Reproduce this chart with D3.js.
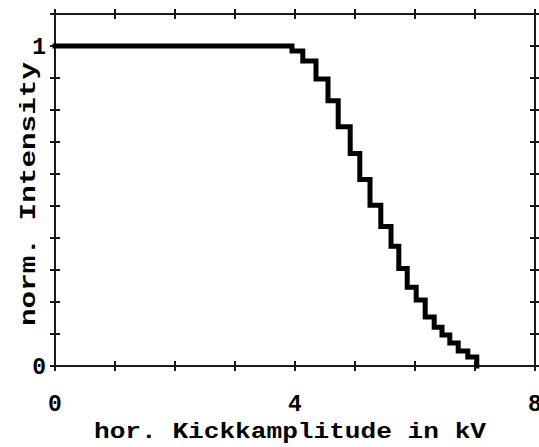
<!DOCTYPE html>
<html>
<head>
<meta charset="utf-8">
<script src="https://cdn.jsdelivr.net/npm/d3@7"></script>
<style>
  html, body { margin: 0; padding: 0; background: #fff; }
  svg { display: block; }
  text { font-family: "Liberation Mono", "DejaVu Sans Mono", monospace; fill: #000; }
</style>
</head>
<body>
<svg id="chart" width="539" height="447"></svg>
<script>
// Step curve: kick amplitude (kV) where each level starts, and the normalised intensity
const kick = [0, 3.95, 4.13, 4.35, 4.55, 4.72, 4.92, 5.08, 5.25, 5.43, 5.60, 5.73,
              5.87, 6.02, 6.17, 6.32, 6.45, 6.58, 6.72, 6.88, 7.03];
const intensity = [1, 0.984, 0.953, 0.897, 0.829, 0.748, 0.664, 0.583, 0.502, 0.436,
                   0.374, 0.305, 0.246, 0.206, 0.153, 0.121, 0.097, 0.072, 0.047, 0.028, 0];

// Tick positions and labels
const xTicks = [0, 1, 2, 3, 4, 5, 6, 7, 8];
const xTickLabels = ["0", "4", "8"];
const yTicks = [0, 0.1, 0.2, 0.3, 0.4, 0.5, 0.6, 0.7, 0.8, 0.9, 1.0, 1.1];
const yTickLabels = ["0", "1"];

const xTitle = "hor. Kickkamplitude in kV";
const yTitle = "norm. Intensity";

const svg = d3.select("#chart");
const x = d3.scaleLinear().domain([0, 8]).range([55, 535]);
const y = d3.scaleLinear().domain([0, 1.1]).range([366, 14]);

const axisColor = "#1a1a1a";
const frame = svg.append("g").attr("stroke", axisColor).attr("stroke-width", 2);

// frame lines
frame.append("line").attr("x1", x(0)).attr("x2", x(8)).attr("y1", y(0)).attr("y2", y(0));
frame.append("line").attr("x1", x(0)).attr("x2", x(8)).attr("y1", y(1.1)).attr("y2", y(1.1));
frame.append("line").attr("x1", x(0)).attr("x2", x(0)).attr("y1", y(0)).attr("y2", y(1.1));
frame.append("line").attr("x1", x(8)).attr("x2", x(8)).attr("y1", y(0)).attr("y2", y(1.1));

// crossing tick marks on all four sides
const tl = 5;
xTicks.forEach(t => {
  [y(0), y(1.1)].forEach(yy => {
    frame.append("line").attr("x1", x(t)).attr("x2", x(t))
      .attr("y1", yy - tl).attr("y2", yy + tl);
  });
});
yTicks.forEach(t => {
  [x(0), x(8)].forEach(xx => {
    frame.append("line").attr("y1", y(t)).attr("y2", y(t))
      .attr("x1", xx - tl).attr("x2", xx + tl);
  });
});

// tick labels
svg.append("g").selectAll("text").data(xTickLabels).join("text")
  .attr("x", d => x(+d)).attr("y", 411)
  .attr("text-anchor", "middle")
  .attr("font-size", 23).attr("font-weight", "bold")
  .text(d => d);

svg.append("g").selectAll("text").data(yTickLabels).join("text")
  .attr("x", 46).attr("y", d => y(+d) + 8)
  .attr("text-anchor", "end")
  .attr("font-size", 23).attr("font-weight", "bold")
  .text(d => d);

// axis titles
svg.append("text")
  .attr("x", 94).attr("y", 438)
  .attr("font-size", 22).attr("font-weight", "bold")
  .attr("textLength", 392).attr("lengthAdjust", "spacingAndGlyphs")
  .text(xTitle);

svg.append("text")
  .attr("transform", "translate(35,326) rotate(-90)")
  .attr("font-size", 22).attr("font-weight", "bold")
  .attr("textLength", 264).attr("lengthAdjust", "spacingAndGlyphs")
  .text(yTitle);

// the intensity staircase
const pts = kick.map((k, i) => [k, intensity[i]]);
const line = d3.line()
  .x(d => x(d[0]))
  .y(d => y(d[1]))
  .curve(d3.curveStepAfter);

svg.append("path")
  .datum(pts)
  .attr("d", line)
  .attr("fill", "none")
  .attr("stroke", "#000")
  .attr("stroke-width", 5)
  .attr("stroke-linejoin", "miter")
  .attr("stroke-linecap", "square");
</script>
</body>
</html>
